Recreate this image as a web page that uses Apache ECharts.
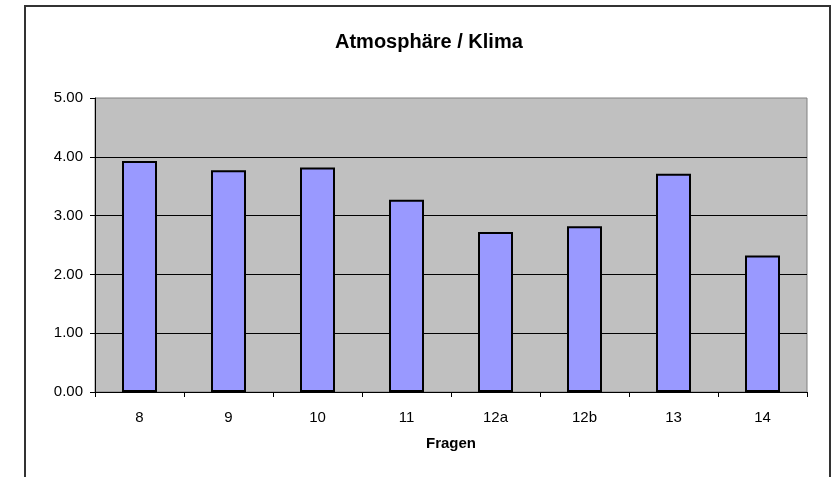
<!DOCTYPE html>
<html>
<head>
<meta charset="utf-8">
<script src="https://cdn.jsdelivr.net/npm/echarts@6/dist/echarts.min.js"></script>
<style>html,body{margin:0;padding:0;background:#fff;}#c{width:832px;height:477px;}</style>
</head>
<body>
<div id="c"></div>
<script>
const categories = ['8', '9', '10', '11', '12a', '12b', '13', '14'];
const values = [3.93, 3.77, 3.82, 3.27, 2.72, 2.82, 3.71, 2.32];
const titleText = 'Atmosphäre / Klima';
const xName = 'Fragen';

const chart = echarts.init(document.getElementById('c'), null, {renderer: 'canvas'});
const font = '"Liberation Sans", Arial, sans-serif';
chart.setOption({
  animation: false,
  backgroundColor: '#ffffff',
  graphic: [{
    type: 'rect', silent: true, z: 100,
    shape: {x: 25, y: 6, width: 805, height: 490},
    style: {fill: 'none', stroke: '#333', lineWidth: 2}
  }],
  title: {
    text: titleText,
    left: 330, top: 27,
    textStyle: {fontFamily: font, fontSize: 20, fontWeight: 'bold', color: '#000'}
  },
  grid: {
    left: 95, right: 25, top: 98, bottom: 85,
    show: true, backgroundColor: '#c0c0c0', borderColor: '#808080', borderWidth: 1
  },
  xAxis: {
    type: 'category',
    data: categories,
    name: xName,
    nameLocation: 'middle',
    nameGap: 44,
    nameTextStyle: {fontFamily: font, fontSize: 15, fontWeight: 'bold', color: '#000'},
    axisLine: {lineStyle: {color: '#000', width: 1}},
    axisTick: {show: true, alignWithLabel: false, length: 5, lineStyle: {color: '#000'}},
    axisLabel: {fontFamily: font, fontSize: 15, color: '#000', margin: 18},
    splitLine: {show: false}
  },
  yAxis: {
    type: 'value',
    min: 0, max: 5, interval: 1,
    axisLine: {show: true, lineStyle: {color: '#000', width: 1}},
    axisTick: {show: true, length: 5, lineStyle: {color: '#000'}},
    axisLabel: {fontFamily: font, fontSize: 15, color: '#000', margin: 12,
      formatter: v => v.toFixed(2)},
    splitLine: {show: true, showMaxLine: false, lineStyle: {color: '#000', width: 1}}
  },
  series: [{
    type: 'bar',
    data: values,
    barWidth: 35,
    itemStyle: {color: '#9999ff', borderColor: '#000', borderWidth: 2}
  }]
});
</script>
</body>
</html>
